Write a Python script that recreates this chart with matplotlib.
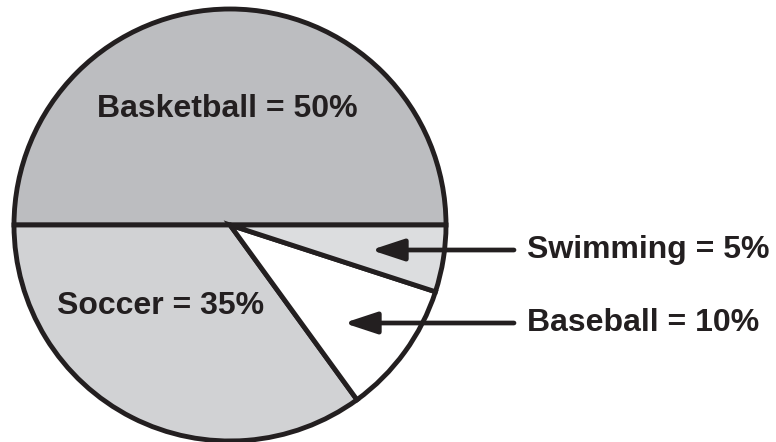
import matplotlib.pyplot as plt

plt.rcParams['font.family'] = ['Liberation Sans', 'DejaVu Sans']

sports = ['Basketball', 'Soccer', 'Baseball', 'Swimming']
shares = [50, 35, 10, 5]
colors = ['#bcbdc0', '#d1d2d4', '#ffffff', '#dcdddf']

fig = plt.figure(figsize=(7.76, 4.42), dpi=100)
ax = fig.add_axes([0, 0, 1, 1])

cx, cy, r = 230, -225, 216
wedges, _ = ax.pie(shares, colors=colors, startangle=0, counterclock=True,
                   center=(cx, cy), radius=r, frame=True,
                   wedgeprops=dict(edgecolor='#231f20', linewidth=3.5))
ax.set_xlim(0, 776)
ax.set_ylim(-442, 0)
ax.set_aspect('equal')
ax.axis('off')

fs = 23
lab = [f'{s} = {v}%' for s, v in zip(sports, shares)]
ax.text(227, -109, lab[0], ha='center', va='center', fontsize=fs,
        fontweight='bold', color='#231f20')
ax.text(161, -306, lab[1], ha='center', va='center', fontsize=fs,
        fontweight='bold', color='#231f20')

# callouts on the right
for text, y, tip in [(lab[3], -250, 371), (lab[2], -323, 344)]:
    ax.annotate('', xy=(tip, y), xytext=(514, y),
                arrowprops=dict(arrowstyle='-|>,head_length=1.0,head_width=0.33',
                                color='#231f20', lw=3.4, mutation_scale=20,
                                shrinkA=0, shrinkB=0))
    ax.text(527, y, text, ha='left', va='center', fontsize=fs,
            fontweight='bold', color='#231f20')

fig.savefig('out.png', dpi=100)
